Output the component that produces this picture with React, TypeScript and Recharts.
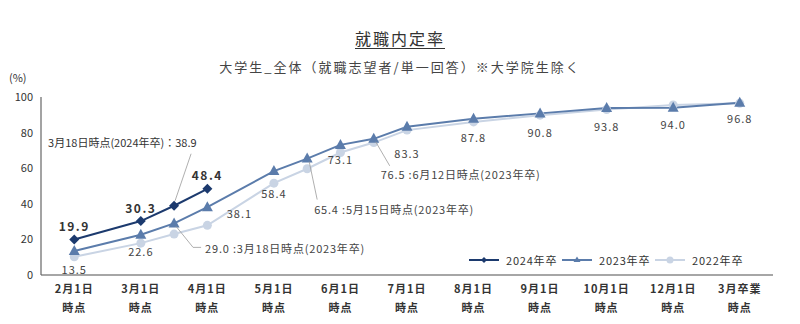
import { LineChart, Line, XAxis, YAxis, LabelList } from 'recharts';

// 調査時点（3月18日・5月15日・6月12日は月の途中）
const slotLabels = ['2月1日', '3月1日', '3月18日', '4月1日', '5月1日', '5月15日', '6月1日', '6月12日', '7月1日', '8月1日', '9月1日', '10月1日', '12月1日', '3月卒業'];
const slotX = [0, 2, 3, 4, 6, 7, 8, 9, 10, 12, 14, 16, 18, 20];

const tickX = [0, 2, 4, 6, 8, 10, 12, 14, 16, 18, 20];
const tickLabels = ['2月1日', '3月1日', '4月1日', '5月1日', '6月1日', '7月1日', '8月1日', '9月1日', '10月1日', '12月1日', '3月卒業'];
const yTicks = [0, 20, 40, 60, 80, 100];

const rate2024 = [19.9, 30.3, 38.9, 48.4];
const rate2023 = [13.5, 22.6, 29.0, 38.1, 58.4, 65.4, 73.1, 76.5, 83.3, 87.8, 90.8, 93.8, 94.0, 96.8];
const rate2022 = [10.2, 17.9, 23.0, 27.9, 51.6, 59.7, 68.8, 74.4, 81.4, 86.0, 89.8, 93.0, 95.5, 96.5];

const data = slotLabels.map((name, i) => ({
	name,
	x: slotX[i],
	y2024: rate2024[i] ?? null,
	y2023: rate2023[i],
	y2022: rate2022[i],
}));

const C2024 = '#1c3a6e';
const C2023 = '#5b7cab';
const C2022 = '#c9d4e4';
const FONT = '"Noto Sans CJK JP", "Noto Sans", sans-serif';
const LEADER = '#9a9a9a';

const Diamond = ({ cx, cy }: any) =>
	cx == null || cy == null ? null : <path d={`M${cx},${cy - 5} L${cx + 5},${cy} L${cx},${cy + 5} L${cx - 5},${cy} Z`} fill={C2024} />;
const Triangle = ({ cx, cy }: any) =>
	cx == null || cy == null ? null : <path d={`M${cx},${cy - 6} L${cx + 5.5},${cy + 4} L${cx - 5.5},${cy + 4} Z`} fill={C2023} />;
const Circle = ({ cx, cy }: any) => (cx == null || cy == null ? null : <circle cx={cx} cy={cy} r={4.5} fill={C2022} />);

const pos = (p: any) => ({ x: p.x ?? p.viewBox?.x, y: p.y ?? p.viewBox?.y });

const label2024 = (p: any) => {
	const { value, index } = p;
	const { x, y } = pos(p);
	if (value == null || x == null) return null;
	if (index === 2) {
		return (
			<g>
				<line x1={x + 1} y1={y - 5} x2={x + 17} y2={y - 52} stroke={LEADER} strokeWidth={0.8} />
				<text x={x - 126} y={y - 64} dominantBaseline="central" fontSize={11} fill="#333" fontFamily={FONT}>
					3月18日時点(2024年卒)：{Number(value).toFixed(1)}
				</text>
			</g>
		);
	}
	return (
		<text x={x} y={y - 14} textAnchor="middle" dominantBaseline="central" fontSize={12} fontWeight="bold" letterSpacing={1.5} fill="#333" fontFamily={FONT}>
			{Number(value).toFixed(1)}
		</text>
	);
};

// 2023年卒のラベルは点の下、一部は引き出し線つき
const below2023: Record<number, number> = { 0: 18, 1: 16, 4: 22, 6: 14, 8: 26, 9: 18, 10: 19, 11: 18, 12: 16, 13: 15 };
const notes2023: Record<number, { lx: number; ly: number; tx: number; ty: number; when: string; hook?: boolean }> = {
	2: { lx: 19, ly: 24, tx: 31, ty: 25, when: '3月18日', hook: true },
	5: { lx: 10, ly: 41, tx: 7, ty: 50, when: '5月15日' },
	7: { lx: 16, ly: 27, tx: 7, ty: 35, when: '6月12日' },
};

const label2023 = (p: any) => {
	const { value, index } = p;
	const { x, y } = pos(p);
	if (value == null || x == null) return null;
	const v = Number(value).toFixed(1);
	const note = notes2023[index];
	if (note) {
		return (
			<g>
				<polyline
					points={`${x + 2},${y + 3} ${x + note.lx},${y + note.ly}${note.hook ? ` ${x + note.lx + 8},${y + note.ly}` : ''}`}
					fill="none"
					stroke={LEADER}
					strokeWidth={0.8}
				/>
				<text x={x + note.tx} y={y + note.ty} dominantBaseline="central" fontSize={11} letterSpacing={0.8} fill="#444" fontFamily={FONT}>
					{v} :{note.when}時点(2023年卒)
				</text>
			</g>
		);
	}
	if (index === 3) {
		return (
			<text x={x + 32} y={y + 6} textAnchor="middle" dominantBaseline="central" fontSize={11} letterSpacing={1} fill="#444" fontFamily={FONT}>
				{v}
			</text>
		);
	}
	return (
		<text x={x} y={y + (below2023[index] ?? 18)} textAnchor="middle" dominantBaseline="central" fontSize={11} letterSpacing={1} fill="#444" fontFamily={FONT}>
			{v}
		</text>
	);
};

const XTick = ({ x, y, payload }: any) => {
	const i = tickX.indexOf(payload.value);
	return (
		<g fontFamily={FONT} fontSize={11} fontWeight="bold" fill="#333">
			<text x={x} y={y + 13} textAnchor="middle" dominantBaseline="central" letterSpacing={1}>
				{tickLabels[i]}
			</text>
			<text x={x} y={y + 32} textAnchor="middle" dominantBaseline="central" letterSpacing={1}>
				時点
			</text>
		</g>
	);
};

const legendItems = [
	{ name: '2024年卒', color: C2024, shape: 'diamond' },
	{ name: '2023年卒', color: C2023, shape: 'triangle' },
	{ name: '2022年卒', color: C2022, shape: 'circle' },
];

const LegendBox = () => (
	<svg width={290} height={16} style={{ display: 'block' }}>
		{legendItems.map((it, i) => {
			const x0 = i * 93;
			const m = x0 + 15;
			return (
				<g key={it.name}>
					<line x1={x0} y1={8} x2={x0 + 30} y2={8} stroke={it.color} strokeWidth={2} />
					{it.shape === 'diamond' && <path d={`M${m},5 L${m + 3},8 L${m},11 L${m - 3},8 Z`} fill={it.color} />}
					{it.shape === 'triangle' && <path d={`M${m},4.5 L${m + 3.5},10 L${m - 3.5},10 Z`} fill={it.color} />}
					{it.shape === 'circle' && <circle cx={m} cy={8} r={3.5} fill={it.color} />}
					<text x={x0 + 37} y={8} dominantBaseline="central" fontSize={11} letterSpacing={0.8} fill="#333" fontFamily={FONT}>
						{it.name}
					</text>
				</g>
			);
		})}
	</svg>
);

export default function App() {
	return (
		<div style={{ position: 'absolute', left: 0, top: 0, width: 800, height: 324, background: '#fff', fontFamily: FONT }}>
			<div style={{ position: 'absolute', left: 0, width: 800, top: 27, textAlign: 'center', fontSize: 16, letterSpacing: 2, color: '#333', lineHeight: '22px' }}>
				<span style={{ textDecoration: 'underline', textUnderlineOffset: 3 }}>就職内定率</span>
			</div>
			<div style={{ position: 'absolute', left: 0, width: 800, top: 58, textAlign: 'center', fontSize: 13, letterSpacing: 2, color: '#444', lineHeight: '18px' }}>
				大学生_全体（就職志望者/単一回答）※大学院生除く
			</div>
			<div style={{ position: 'absolute', left: 9, top: 69, fontSize: 11, color: '#333', lineHeight: '16px' }}>(%)</div>
			<LineChart width={800} height={324} data={data} margin={{ top: 97, right: 27, bottom: 0, left: 8 }} style={{ position: 'absolute', left: 0, top: 0 }}>
				<XAxis
					type="number"
					dataKey="x"
					domain={[-1, 21]}
					ticks={tickX}
					interval={0}
					tickLine={false}
					tickSize={0}
					tickMargin={0}
					height={49}
					axisLine={{ stroke: '#888', strokeWidth: 1.5 }}
					tick={<XTick />}
				/>
				<YAxis
					type="number"
					domain={[0, 100]}
					ticks={yTicks}
					width={33}
					tickLine={false}
					axisLine={{ stroke: '#666', strokeWidth: 1.2 }}
					tick={{ fontSize: 11, fill: '#333', fontFamily: FONT }}
				/>
				<Line dataKey="y2022" stroke={C2022} strokeWidth={2} dot={<Circle />} activeDot={false} isAnimationActive={false} />
				<Line dataKey="y2023" stroke={C2023} strokeWidth={2} dot={<Triangle />} activeDot={false} isAnimationActive={false}>
					<LabelList dataKey="y2023" content={label2023} />
				</Line>
				<Line dataKey="y2024" stroke={C2024} strokeWidth={2} dot={<Diamond />} activeDot={false} isAnimationActive={false}>
					<LabelList dataKey="y2024" content={label2024} />
				</Line>
			</LineChart>
			<div style={{ position: 'absolute', left: 469, top: 252 }}>
				<LegendBox />
			</div>
		</div>
	);
}
